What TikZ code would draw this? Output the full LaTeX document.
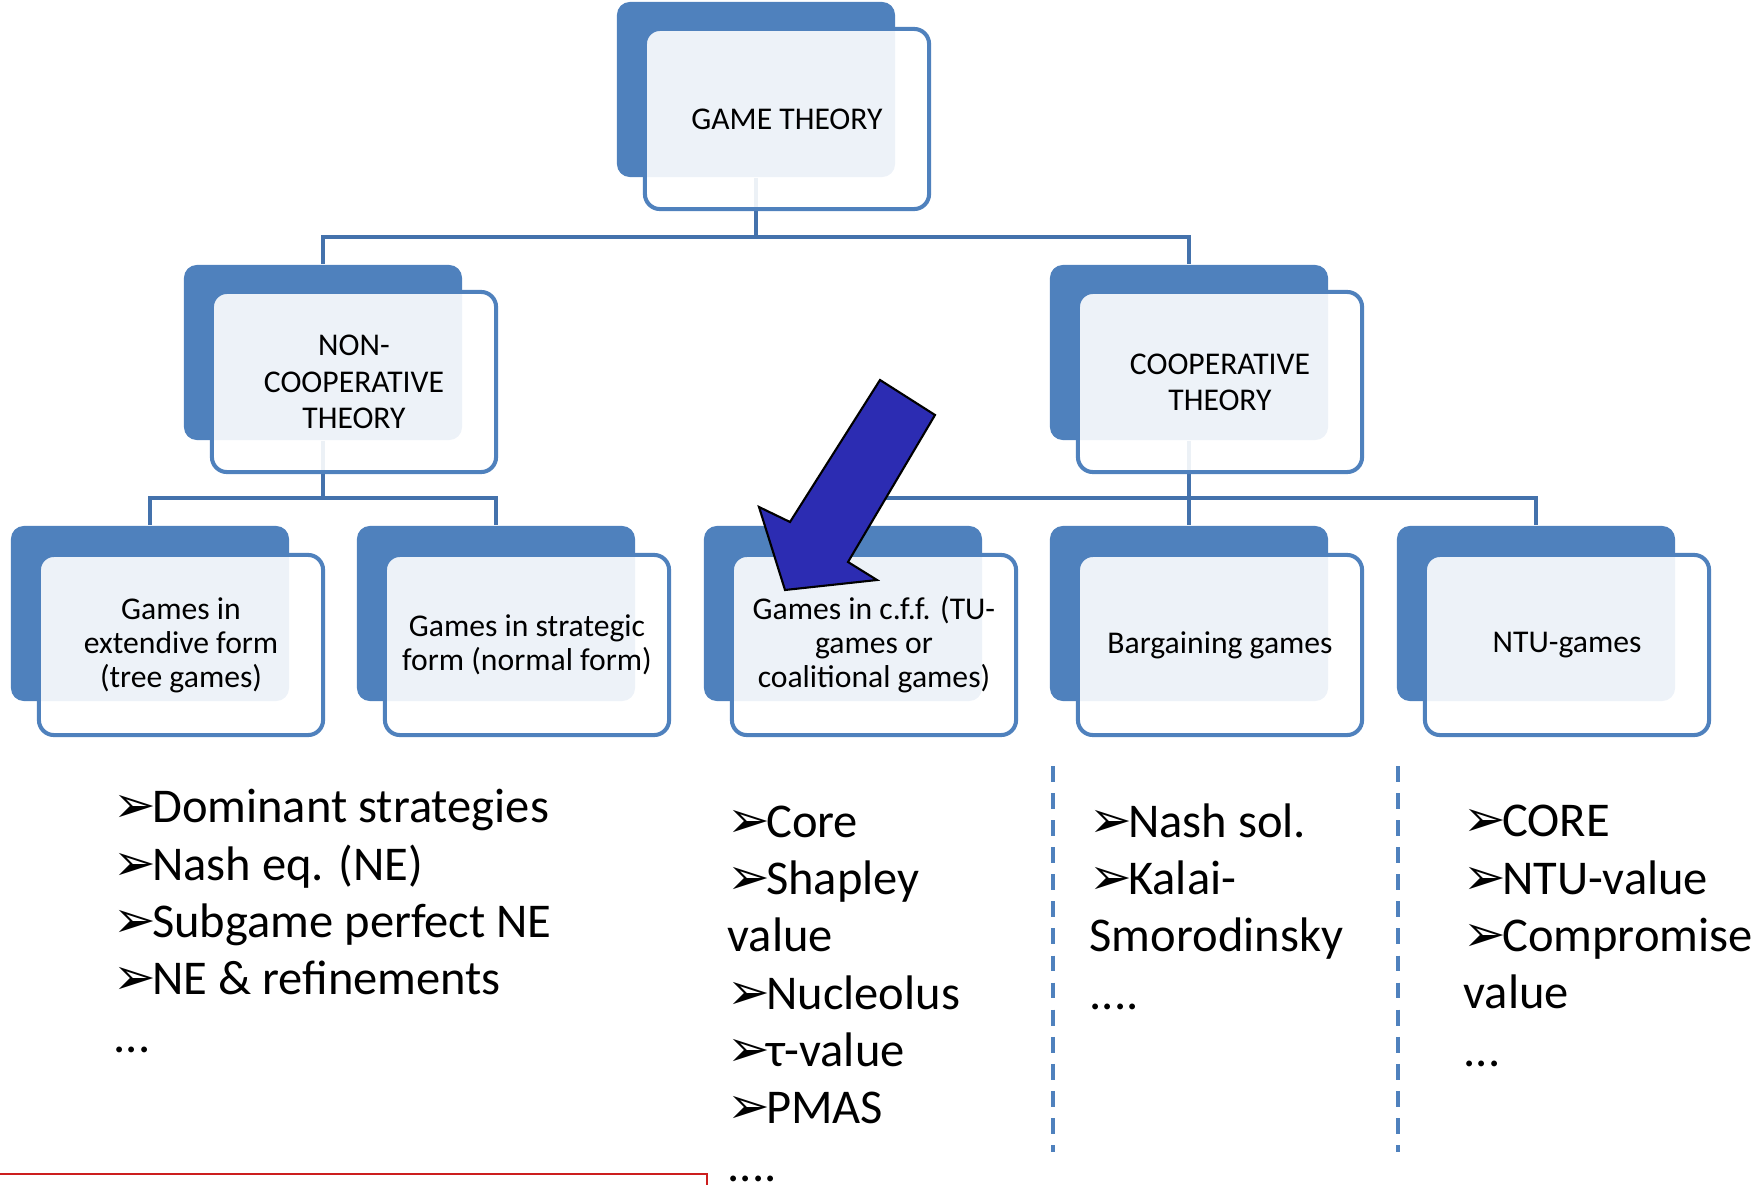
\documentclass[tikz,border=0pt]{standalone}
\usepackage{fontspec}
\setmainfont{Carlito}
\newfontfamily\dejavu{DejaVu Sans}
\usepackage{tikz}
\usetikzlibrary{backgrounds}
\definecolor{gtblue}{RGB}{79,129,189}
\definecolor{linkblue}{RGB}{68,114,172}
\definecolor{arrowblue}{RGB}{44,44,178}
\definecolor{redline}{RGB}{204,30,30}
\newcommand{\bul}{{\dejavu\fontsize{14.5}{14.5}\selectfont ➢}\kern-1.2pt}

\begin{document}
\begin{tikzpicture}[x=0.01cm,y=-0.01cm,
  backbox/.style={fill=gtblue,rounded corners=0.13cm,minimum width=2.78cm,minimum height=1.75cm,inner sep=0pt},
  frontbox/.style={draw=gtblue,line width=1.15pt,fill=white,fill opacity=0.9,text opacity=1,
    rounded corners=0.15cm,minimum width=2.84cm,minimum height=1.8cm,inner sep=0pt,
    align=center,font=\fontsize{9}{10.3}\selectfont},
  leafbox/.style={frontbox,font=\fontsize{9}{9.7}\selectfont},
  link/.style={draw=linkblue,line width=1.15pt},
  sepline/.style={draw=gtblue,line width=1.3pt,dash pattern=on 4.5pt off 3.2pt},
  itemlist/.style={anchor=base west,align=left,inner sep=0pt,font=\fontsize{13.8}{16.3}\selectfont},
]
\useasboundingbox (0,0) rectangle (1754,1185);
\coordinate (bar1) at (0,237); \coordinate (bar2) at (0,498);

% hierarchy boxes
\node[backbox](gt-b) at(756,89.5){};   \node[frontbox](gt) at(787,119){GAME THEORY};
\node[backbox](nc-b) at(323,352.5){};  \node[frontbox](nc) at(354,382){NON-\\COOPERATIVE\\THEORY};
\node[backbox](co-b) at(1189,352.5){}; \node[frontbox](co) at(1220,382){COOPERATIVE\\THEORY};
\node[backbox](ext-b) at(150,613.5){}; \node[leafbox](ext) at(181,645){Games in\\extendive form\\(tree games)};
\node[backbox](str-b) at(496,613.5){}; \node[leafbox](str) at(527,645){Games in strategic\\form (normal form)};
\node[backbox](cff-b) at(843,613.5){}; \node[leafbox](cff) at(874,645){Games in c.f.f. (TU-\\games or\\coalitional games)};
\node[backbox](brg-b) at(1189,613.5){};\node[leafbox](brg) at(1220,645){Bargaining games};
\node[backbox](ntu-b) at(1536,613.5){};\node[leafbox](ntu) at(1567,645){NTU-games};

% connectors
\begin{scope}[on background layer]
\draw[link](gt-b.south)--(gt-b.south|-bar1)-|(nc-b.north);
\draw[link](gt-b.south|-bar1)-|(co-b.north);
\draw[link](nc-b.south)--(nc-b.south|-bar2)-|(ext-b.north);
\draw[link](nc-b.south|-bar2)-|(str-b.north);
\draw[link](co-b.south)--(brg-b.north);
\draw[link](co-b.south|-bar2)-|(cff-b.north);
\draw[link](co-b.south|-bar2)-|(ntu-b.north);
\end{scope}

% solution concepts (base = last line)
\node[itemlist](ne-list) at(113,1052){\bul Dominant strategies\\\bul Nash eq. (NE)\\\bul Subgame perfect NE\\\bul NE \& refinements\\...};
\node[itemlist](tu-list) at(727,1181){\bul Core\\\bul Shapley\\value\\\bul Nucleolus\\\bul τ-value\\\bul PMAS\\....};
\node[itemlist](bg-list) at(1089,1009){\bul Nash sol.\\\bul Kalai-\\Smorodinsky\\....};
\node[itemlist](ntu-list) at(1463,1066){\bul CORE\\\bul NTU-value\\\bul Compromise\\value\\...};

\draw[sepline](1053,766)--(1053,1152);
\draw[sepline](1398,766)--(1398,1152);
\draw[redline,line width=0.7pt](0,1174)--(707,1174)--(707,1190);

% big pointer
\draw[fill=arrowblue,line width=0.6pt,line join=miter](880,380)--(935,415)--(848,562)--(877,580)--(785,590)--(759,507)--(790,522)--cycle;
\end{tikzpicture}
\end{document}
